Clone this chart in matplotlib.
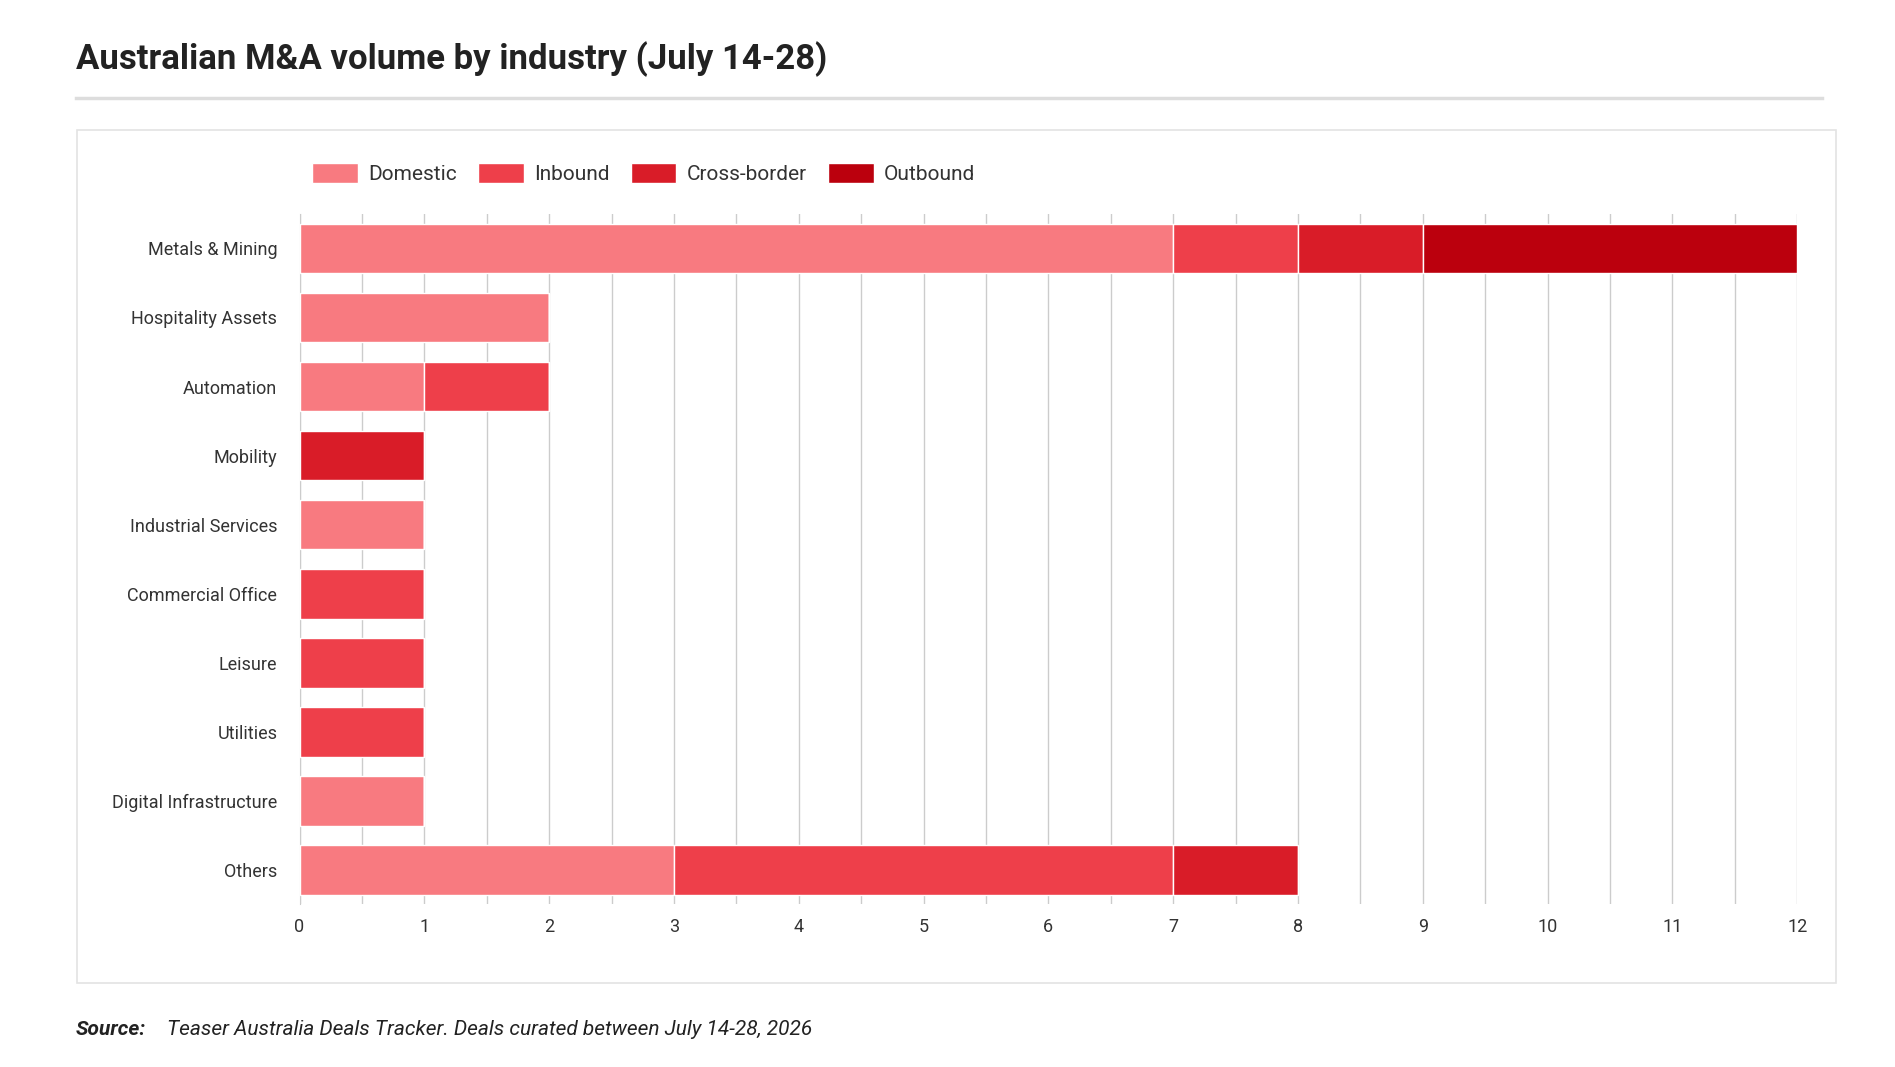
import matplotlib
matplotlib.use("Agg")
import matplotlib.pyplot as plt
from matplotlib.patches import Rectangle
from matplotlib.lines import Line2D
import numpy as np

plt.rcParams['font.family'] = ['Roboto', 'DejaVu Sans']

categories = ["Metals & Mining", "Hospitality Assets", "Automation", "Mobility",
              "Industrial Services", "Commercial Office", "Leisure", "Utilities",
              "Digital Infrastructure", "Others"]
series = ["Domestic", "Inbound", "Cross-border", "Outbound"]
domestic = [7, 2, 1, 0, 1, 0, 0, 0, 1, 3]
inbound = [1, 0, 1, 0, 0, 1, 1, 1, 0, 4]
cross_border = [1, 0, 0, 1, 0, 0, 0, 0, 0, 1]
outbound = [3, 0, 0, 0, 0, 0, 0, 0, 0, 0]
colors = ["#f87a80", "#ee3f4a", "#d91c28", "#bb000d"]

W, H = 1550, 873
fig = plt.figure(figsize=(18.95, 10.67), dpi=100)

# title, rule, box
fig.text(62/W, 1-48/H, "Australian M&A volume by industry (July 14-28)", fontsize=25,
         fontweight='bold', color='#222222', va='center', ha='left')
fig.add_artist(Line2D([62/W, 1490/W], [1-80/H, 1-80/H], color='#dddddd', lw=2.5))
fig.add_artist(Rectangle((63/W, 1-804/H), (1502-63)/W, (804-106)/H, fill=False,
                         edgecolor='#e3e3e3', lw=1.2))

ax = fig.add_axes([245/W, 1-740/H, (1470-245)/W, (740-175)/H])
y = np.arange(len(categories))
left = np.zeros(len(categories))
for name, vals, c in zip(series, [domestic, inbound, cross_border, outbound], colors):
    v = np.array(vals, float)
    ax.barh(y, v, left=left, color=c, height=0.72, edgecolor='white', linewidth=1,
            label=name, zorder=3)
    left += v

ax.set_xlim(0, 12)
ax.set_ylim(len(categories)-0.5, -0.5)
ax.set_xticks(range(13))
ax.set_xticks(np.arange(0.5, 12, 1), minor=True)
ax.grid(axis='x', which='both', color='#cccccc', lw=1, zorder=0)
ax.set_yticks(y)
ax.set_yticklabels(categories, fontsize=13, color='#333333')
ax.tick_params(axis='y', length=0, pad=16)
ax.tick_params(axis='x', which='both', length=0, labelsize=13, colors='#333333', pad=10)
for s in ['top', 'right', 'bottom']:
    ax.spines[s].set_visible(False)
ax.spines['left'].set_color('#cccccc')

leg = fig.legend(loc='center left', bbox_to_anchor=(240/W, 1-142/H), ncol=4, frameon=False,
                 fontsize=15, handlelength=2.2, handleheight=1.1, columnspacing=1.0,
                 handletextpad=0.5, labelcolor='#333333')

fig.text(62/W, 1-842/H, r"$\bf{Source:}$", fontsize=15, style='italic', color='#222222',
         va='center', ha='left')
fig.text(62/W, 1-842/H, "Source: Teaser Australia Deals Tracker. Deals curated between July 14-28, 2026",
         fontsize=15, style='italic', color='#222222', va='center', ha='left', alpha=0)
t1 = fig.text(62/W, 1-842/H, "Source:", fontsize=15, style='italic', fontweight='bold',
              color='#222222', va='center', ha='left')
fig.texts.remove(fig.texts[-2]); fig.texts.remove(fig.texts[-2])
fig.text(137/W, 1-842/H, "Teaser Australia Deals Tracker. Deals curated between July 14-28, 2026",
         fontsize=15, style='italic', color='#222222', va='center', ha='left')

fig.savefig("out.png", dpi=100, facecolor='white')
